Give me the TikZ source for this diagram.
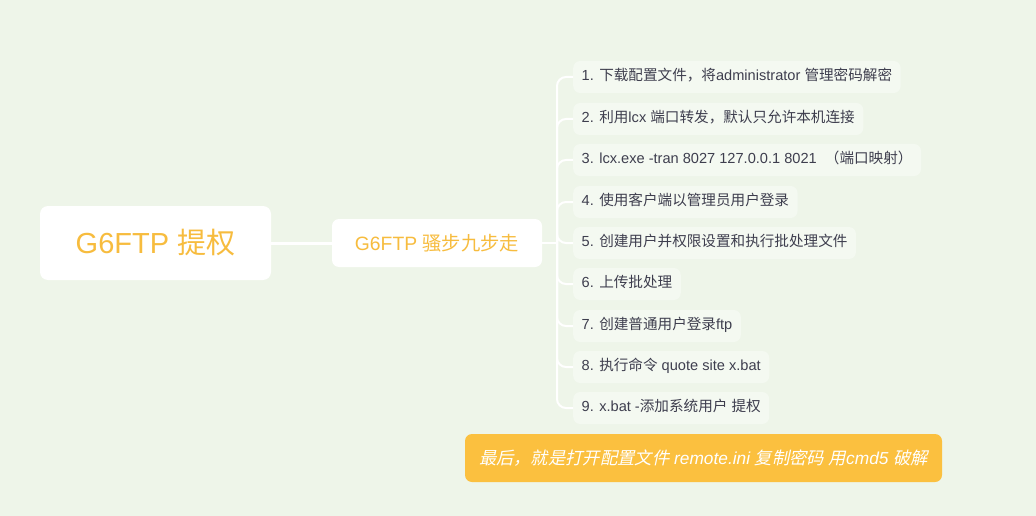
\documentclass[tikz,border=0pt]{standalone}
\usepackage{fontspec}
\setmainfont{Liberation Sans}
\newfontfamily\cjk{Noto Sans CJK SC}
\newfontfamily\cjkit[FakeSlant=0.22]{Noto Sans CJK SC}
\newcommand\zh[1]{{\cjk #1}}
\newcommand\zhi[1]{{\cjkit #1}}
\definecolor{bgc}{HTML}{EEF5E9}
\definecolor{leafc}{HTML}{F4F9F1}
\definecolor{orangec}{HTML}{F7BC3E}
\definecolor{calloutc}{HTML}{FBC03F}
\definecolor{txtc}{HTML}{3E3E4E}
\tikzset{
  rootbox/.style={fill=white, rounded corners=8pt, minimum width=231pt, minimum height=74pt, inner sep=0pt, text=orangec, font=\fontsize{29}{31}\selectfont},
  mainbox/.style={fill=white, rounded corners=7pt, minimum width=210pt, minimum height=48pt, inner sep=0pt, text=orangec, font=\fontsize{19.3}{21}\selectfont},
  leafbox/.style={fill=leafc, rounded corners=7pt, anchor=west, minimum height=32pt, inner xsep=8.5pt, inner ysep=0pt, text height=10pt, text depth=3pt, text=txtc, font=\fontsize{14.6}{16}\selectfont},
  calloutbox/.style={fill=calloutc, rounded corners=7pt, minimum width=477pt, minimum height=48pt, inner sep=0pt, text=white, font=\fontsize{17.3}{19}\selectfont\itshape},
  link/.style={draw=white, line width=3pt},
  branch/.style={draw=white, line width=2pt, rounded corners=9pt},
}
\begin{document}
\begin{tikzpicture}[x=1pt,y=-1pt]
\fill[bgc] (0,0) rectangle (1036,516);
\useasboundingbox (0,0) rectangle (1036,516);
\node[rootbox] (root) at (155.5,243) {G6FTP \zh{提权}};
\node[mainbox] (main) at (437,243) {G6FTP \zh{骚步九步走}};
\coordinate (j) at (557,243);
\node[leafbox] (c1) at (573,77) {1. \zh{下载配置文件，将}administrator \zh{管理密码解密}};
\node[leafbox] (c2) at (573,119) {2. \zh{利用}lcx \zh{端口转发，默认只允许本机连接}};
\node[leafbox] (c3) at (573,160) {3. lcx.exe -tran 8027 127.0.0.1 8021 \ \zh{（端口映射）}};
\node[leafbox] (c4) at (573,202) {4. \zh{使用客户端以管理员用户登录}};
\node[leafbox] (c5) at (573,243) {5. \zh{创建用户并权限设置和执行批处理文件}};
\node[leafbox] (c6) at (573,284) {6. \zh{上传批处理}};
\node[leafbox] (c7) at (573,326) {7. \zh{创建普通用户登录}ftp};
\node[leafbox] (c8) at (573,367) {8. \zh{执行命令} quote site x.bat};
\node[leafbox] (c9) at (573,408) {9. x.bat -\zh{添加系统用户} \zh{提权}};
\node[calloutbox] (note) at (703.5,458) {\zhi{最后，就是打开配置文件} remote.ini \zhi{复制密码} \zhi{用}cmd5 \zhi{破解}};
\draw[link] (root.east) -- (main.west);
\draw[branch] (main.east) -- (j);
\foreach \c in {c1,c2,c3,c4,c5,c6,c7,c8,c9}
  \draw[branch] (j) |- (\c.west);
\end{tikzpicture}
\end{document}
